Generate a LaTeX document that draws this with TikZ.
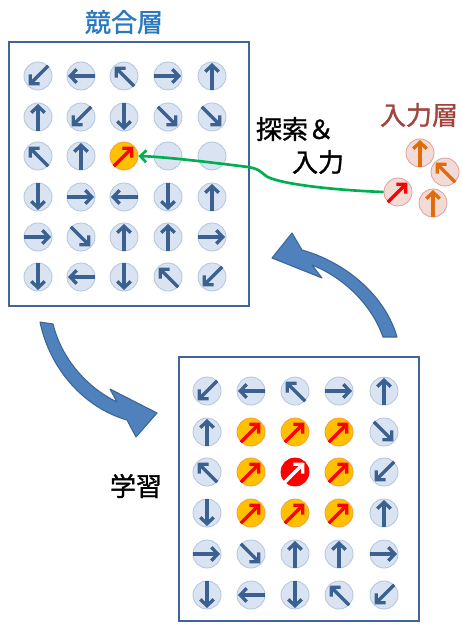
\documentclass[tikz,border=0pt]{standalone}
\usepackage{fontspec}
\newfontfamily\jpfont{Noto Sans CJK JP}[FakeBold=1.2]
\usetikzlibrary{arrows.meta,calc}
\definecolor{cellfill}{HTML}{DAE3F1}
\definecolor{cellborder}{HTML}{B4C5DE}
\definecolor{vecblue}{HTML}{3A6190}
\definecolor{boxblue}{HTML}{41659A}
\definecolor{hotfill}{HTML}{FFC000}
\definecolor{hotborder}{HTML}{F5A040}
\definecolor{infill}{HTML}{F2DAD7}
\definecolor{inborder}{HTML}{DDA09C}
\definecolor{inorange}{HTML}{E36C0A}
\definecolor{titleblue}{HTML}{2A78C0}
\definecolor{titlered}{HTML}{A0453E}
\definecolor{greenline}{HTML}{00B050}
\definecolor{bigfill}{HTML}{4F81BD}
\definecolor{bigdraw}{HTML}{3C6696}
\newcommand\gridrow[4]{%
  \foreach \xx/\ang/\knd [count=\cc] in {#4}{%
    \node[\knd\space cell] (#1\cc-#2) at (\xx,#3) {};
    \draw[\knd\space vec] ([shift={(\ang+180:10.8pt)}]#1\cc-#2.center) -- ([shift={(\ang:9.8pt)}]#1\cc-#2.center);
  }}
\begin{document}
\begin{tikzpicture}[x=0.75pt,y=-0.75pt,
  basecell/.style={circle,inner sep=0pt,minimum size=21pt,line width=0.6pt},
  n cell/.style={basecell,fill=cellfill,draw=cellborder},
  e cell/.style={basecell,fill=cellfill,draw=cellborder},
  h cell/.style={basecell,fill=hotfill,draw=hotborder},
  r cell/.style={basecell,fill=red,draw=red},
  i cell/.style={basecell,fill=infill,draw=inborder},
  j cell/.style={basecell,fill=infill,draw=inborder},
  basevec/.style={line width=2.5pt,-{Straight Barb[length=4.8pt,width=10pt]}},
  n vec/.style={basevec,draw=vecblue},
  e vec/.style={draw=none},
  h vec/.style={basevec,draw=red},
  r vec/.style={basevec,draw=white},
  i vec/.style={basevec,draw=inorange},
  j vec/.style={basevec,draw=red},
  box/.style={draw=boxblue,line width=1.6pt,fill=white},
  label/.style={font=\jpfont\fontsize{19.5pt}{21pt}\selectfont,inner sep=0pt},
  bigarrow/.style={fill=bigfill,draw=bigdraw,line width=0.8pt,line join=round}]
\useasboundingbox (0,0) rectangle (461,624);

% boxes
\draw[box] (9,42) rectangle (249,306);
\draw[box] (179,357) rectangle (419,621);

% titles and labels
\node[label,text=titleblue] (ttl) at (124,22) {競合層};
\node[label,text=titlered] (inttl) at (419,115) {入力層};
\node[label] (lab1) at (295,129) {探索＆};
\node[label] (lab2) at (318,162) {入力};
\node[label] (lab3) at (136,486) {学習};

% competitive layer (top)
\gridrow{t}{1}{76}{38/225/n,81/180/n,124/135/n,168/0/n,212/90/n}
\gridrow{t}{2}{117}{38/90/n,81/225/n,124/270/n,168/315/n,212/315/n}
\gridrow{t}{3}{156}{38/135/n,81/90/n,124/45/h,168/0/e,212/0/e}
\gridrow{t}{4}{197}{38/270/n,81/0/n,124/180/n,168/270/n,212/90/n}
\gridrow{t}{5}{237}{38/0/n,81/315/n,124/90/n,168/90/n,212/0/n}
\gridrow{t}{6}{277}{38/270/n,81/180/n,124/270/n,168/135/n,212/225/n}

% competitive layer after learning (bottom)
\gridrow{b}{1}{391}{207/225/n,251/180/n,295/135/n,339/0/n,384/90/n}
\gridrow{b}{2}{432}{207/90/n,251/45/h,295/45/h,339/45/h,384/315/n}
\gridrow{b}{3}{472}{207/135/n,251/45/h,295/45/r,339/45/h,384/225/n}
\gridrow{b}{4}{513}{207/270/n,251/45/h,295/45/h,339/45/h,384/90/n}
\gridrow{b}{5}{554}{207/0/n,251/315/n,295/90/n,339/90/n,384/0/n}
\gridrow{b}{6}{595}{207/270/n,251/180/n,295/270/n,339/135/n,384/225/n}

% input layer
\node[i cell] (in1) at (420,153) {};
\node[i cell] (in2) at (445,172) {};
\node[i cell] (in3) at (433,203) {};
\node[j cell] (in4) at (398,192) {};
\draw[i vec] ([shift={(270:10.8pt)}]in1.center) -- ([shift={(90:9.8pt)}]in1.center);
\draw[i vec] ([shift={(315:10.8pt)}]in2.center) -- ([shift={(135:9.8pt)}]in2.center);
\draw[i vec] ([shift={(270:10.8pt)}]in3.center) -- ([shift={(90:9.8pt)}]in3.center);
\draw[j vec] ([shift={(225:10.8pt)}]in4.center) -- ([shift={(45:9.8pt)}]in4.center);

% green search arrow
\draw[greenline,line width=2pt,-{Straight Barb[length=4.5pt,width=9pt]}]
  (in4.west) .. controls (330,190) and (285,184) .. (270,178)
  .. controls (262,175) and (262,169) .. (248,167)
  .. controls (200,161) and (165,157) .. (t3-3.east);

% big curved arrows
\filldraw[bigarrow] (397,337) .. controls (385,295) and (345,262) .. (302,250)
  -- (292,233) -- (272,258) -- (322,278) -- (312,265)
  .. controls (338,275) and (370,300) .. (383,337) -- cycle;
\filldraw[bigarrow] (40,322) .. controls (50,370) and (85,408) .. (127,420)
  -- (136,437) -- (157,413) -- (110,389) -- (117,402)
  .. controls (88,388) and (62,360) .. (53,324) -- cycle;
\end{tikzpicture}
\end{document}
